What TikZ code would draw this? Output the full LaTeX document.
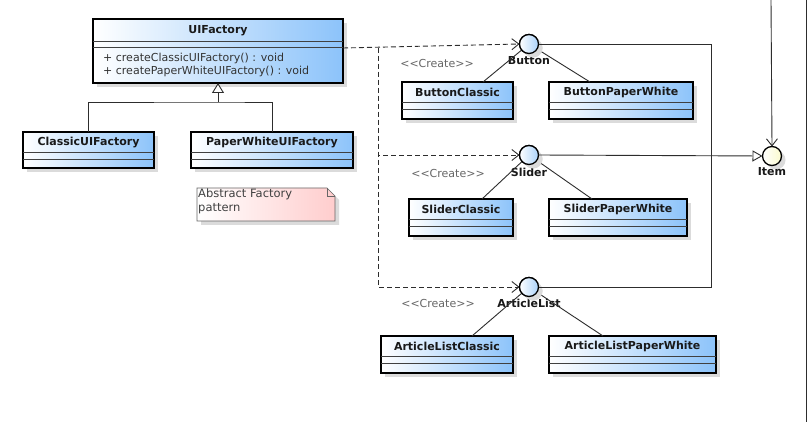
\documentclass[tikz,border=0pt]{standalone}
\usepackage{fontspec}
\setmainfont{DejaVu Sans}
\usetikzlibrary{arrows.meta,shadows,calc}
\definecolor{clsblue}{RGB}{140,195,250}
\definecolor{ifblue}{RGB}{170,210,250}
\definecolor{notepink}{RGB}{255,205,205}
\definecolor{itemyel}{RGB}{250,250,205}
\definecolor{linegray}{RGB}{45,45,45}
\tikzset{
  x=1pt, y=-1pt,
  shad/.style={drop shadow={shadow xshift=4pt,shadow yshift=-4pt,fill=black!14,opacity=1}},
  cls/.style={draw=black, line width=1.4pt, left color=white, right color=clsblue,
    inner sep=0pt, outer sep=0pt, shad},
  clsname/.style={font=\fontsize{11}{12}\selectfont\bfseries, text=black!90, inner sep=0pt},
  comp/.style={line width=0.8pt, draw=black!75},
  iface/.style={circle, draw=black, line width=1.3pt, minimum size=19pt, inner sep=0pt,
    outer sep=0pt, left color=white, right color=ifblue, shad},
  ifname/.style={font=\fontsize{11}{12}\selectfont\bfseries, text=black!90, inner sep=0pt},
  optext/.style={font=\fontsize{11}{13}\selectfont, text=black!80, inner sep=0pt, anchor=west},
  stereo/.style={font=\fontsize{11}{12}\selectfont, text=black!60, inner sep=0pt},
  conn/.style={draw=linegray, line width=0.9pt},
  dep/.style={conn, dash pattern=on 5pt off 3pt, -{Straight Barb[length=7pt,width=11pt]}},
  gen/.style={conn, -{Triangle[open,length=10pt,width=12pt,fill=white]}},
}
\newcommand\umlclass[6]{%
  \node[cls, minimum width={#4-#2}, minimum height={#5-#3}] (#1) at ({(#2+#4)/2},{(#3+#5)/2}) {};
  \node[clsname] (#1-name) at ({(#2+#4)/2},{#3+10.5}) {#6};
  \draw[comp] (#2,{#3+20}) -- (#4,{#3+20});
  \draw[comp] (#2,{#3+27}) -- (#4,{#3+27});
}
\begin{document}
\begin{tikzpicture}
\useasboundingbox (0,0) rectangle (811,422);
\fill[white] (0,0) rectangle (811,422);

% ---- UIFactory
\node[cls, minimum width=250, minimum height=64] (uf) at (218,51) {};
\node[clsname] (uf-name) at (218,31) {UIFactory};
\draw[comp] (93,41) -- (343,41);
\draw[comp] (93,47) -- (343,47);
\node[optext] (op1) at (103,58) {+ createClassicUIFactory() : void};
\node[optext] (op2) at (103,71) {+ createPaperWhiteUIFactory() : void};

% ---- factories
\umlclass{cuf}{23}{132}{154}{168}{ClassicUIFactory}
\umlclass{pwf}{191}{132}{353}{168}{PaperWhiteUIFactory}

% ---- note
\fill[black!14] (201,192) -- (331,192) -- (339,200) -- (339,225) -- (201,225) -- cycle;
\path[left color=white, right color=notepink, draw=black!60, line width=0.7pt]
  (197,188) -- (327,188) -- (335,196) -- (335,221) -- (197,221) -- cycle;
\draw[black!60, line width=0.7pt] (327,188) -- (327,196) -- (335,196);
\node[font=\fontsize{11.5}{14}\selectfont, text=black!75, inner sep=0pt, anchor=north west, align=left]
  (note) at (198,189) {Abstract Factory\\pattern};

% ---- products
\umlclass{bc}{402}{82}{513}{119}{ButtonClassic}
\umlclass{bpw}{549}{82}{693}{119}{ButtonPaperWhite}
\umlclass{sc}{409}{199}{513}{236}{SliderClassic}
\umlclass{spw}{549}{199}{687}{236}{SliderPaperWhite}
\umlclass{ac}{381}{336}{513}{373}{ArticleListClassic}
\umlclass{apw}{549}{336}{716}{373}{ArticleListPaperWhite}

% ---- interfaces
\node[iface] (btn) at (529,44) {};
\node[iface] (sld) at (529,155) {};
\node[iface] (al) at (529,287) {};
\node[iface, right color=itemyel, left color=white] (item) at (772,156) {};
\node[ifname] (btn-l) at (529,61) {Button};
\node[ifname] (sld-l) at (529,172) {Slider};
\node[ifname] (al-l) at (529,303) {ArticleList};
\node[ifname] (item-l) at (772,172) {Item};

% ---- stereotypes
\node[stereo] (cr1) at (437,63) {<{}<Create>{}>};
\node[stereo] (cr2) at (448,173) {<{}<Create>{}>};
\node[stereo] (cr3) at (438,303) {<{}<Create>{}>};

% ---- generalization
\coordinate (gj) at (218,102);
\draw[conn] (cuf.north) |- (gj) -| (pwf.north);
\draw[gen] (gj) -- (uf.south);

% ---- dependencies
\coordinate (ufo) at (343,48);
\coordinate (dj) at (378,48);
\draw[dep] (ufo) -- (btn.west);
\draw[dep] (dj) |- (sld.west);
\draw[dep] (dj) |- (al.west);

% ---- lollipop links
\draw[conn] (btn) -- ([xshift=25.5pt]bc.north);
\draw[conn] (btn) -- ([xshift=-31pt]bpw.north);
\draw[conn] (sld) -- ([xshift=21pt]sc.north);
\draw[conn] (sld) -- ([xshift=-26pt]spw.north);
\draw[conn] (al) -- ([xshift=25pt]ac.north);
\draw[conn] (al) -- ([xshift=-29.5pt]apw.north);
\node[iface] at (btn) {};
\node[iface] at (sld) {};
\node[iface] at (al) {};

% ---- realization to Item
\coordinate (rj) at (711,44);
\draw[conn] (btn.east) -- (rj) |- (al.east);
\draw[conn, -{Triangle[open,length=10pt,width=11pt,fill=white]}] (sld.east) -- (item.west);

% ---- incoming from top
\coordinate (itop) at (771,0);
\draw[conn, -{Straight Barb[length=7pt,width=11pt]}] (itop) -- (item.north);

% ---- right frame edge
\coordinate (fr1) at (806,0);
\coordinate (fr2) at (806,422);
\draw[conn] (fr1) -- (fr2);
\end{tikzpicture}
\end{document}
